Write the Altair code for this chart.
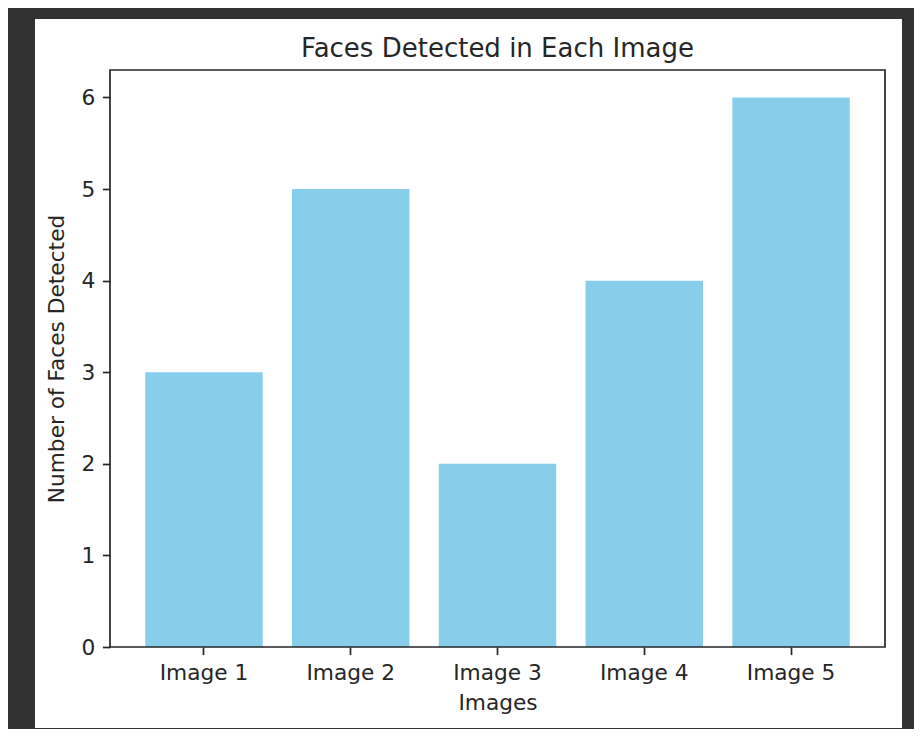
import altair as alt
import pandas as pd

images = ["Image 1", "Image 2", "Image 3", "Image 4", "Image 5"]
faces = [3, 5, 2, 4, 6]
y_ticks = [0, 1, 2, 3, 4, 5, 6]

df = pd.DataFrame({"image": images, "faces": faces})
one = pd.DataFrame({"a": [0]})

W, H = 775, 577
FONT = "DejaVu Sans"
LS = 21.7
TXT = "#262626"

panel = alt.Chart(one).mark_rect(color="white").encode(
    x=alt.value(-75), x2=alt.value(792), y=alt.value(-51), y2=alt.value(658)
)

bars = alt.Chart(df).mark_bar(color="#87CEEB").encode(
    x=alt.X(
        "image:N",
        sort=images,
        scale=alt.Scale(paddingInner=0.2, paddingOuter=0.24),
        axis=alt.Axis(
            title="Images", labelAngle=0, zindex=1, domain=False,
            tickSize=7.6, tickWidth=1.7, tickColor=TXT,
            labelPadding=7.6, labelFontSize=LS, labelColor=TXT, labelFont=FONT,
            titleFontSize=LS, titleColor=TXT, titleFont=FONT,
            titleFontWeight="normal", titlePadding=9,
        ),
    ),
    y=alt.Y(
        "faces:Q",
        scale=alt.Scale(domain=[0, 6.3], nice=False),
        axis=alt.Axis(
            title="Number of Faces Detected", values=y_ticks, grid=False,
            zindex=1, domain=False,
            tickSize=7.6, tickWidth=1.7, tickColor=TXT,
            labelPadding=7.6, labelFontSize=LS, labelColor=TXT, labelFont=FONT,
            titleFontSize=LS, titleColor=TXT, titleFont=FONT,
            titleFontWeight="normal", titlePadding=13,
        ),
    ),
)

frame = alt.Chart(one).mark_rect(fillOpacity=0, stroke=TXT, strokeWidth=1.7).encode(
    x=alt.value(0), x2=alt.value(W), y=alt.value(0), y2=alt.value(H)
)

chart = alt.layer(panel, bars, frame).properties(
    width=W,
    height=H,
    background="#323232",
    padding={"left": 102, "top": 62, "right": 29, "bottom": 82},
    autosize=alt.AutoSizeParams(type="none"),
    title=alt.TitleParams(
        "Faces Detected in Each Image", font=FONT, fontSize=26,
        fontWeight="normal", color=TXT, anchor="middle", frame="group",
        baseline="alphabetic", offset=-64,
    ),
).configure_view(stroke=None)

chart.save("out.html", embed_options={"renderer": "svg", "actions": False})
